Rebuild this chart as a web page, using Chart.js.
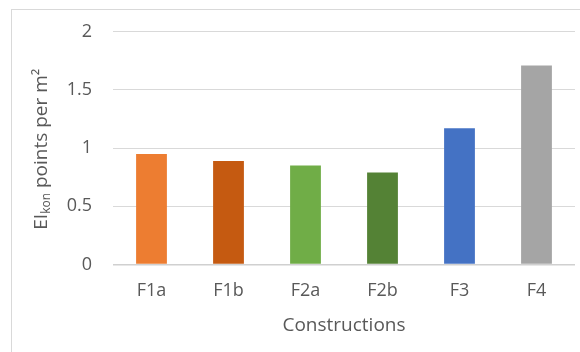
<!DOCTYPE html>
<html>
<head>
<meta charset="utf-8">
<script src="https://cdn.jsdelivr.net/npm/chart.js@4/dist/chart.umd.min.js"></script>
<style>
  html, body { margin: 0; padding: 0; background: #fff; }
  #wrap { width: 580px; height: 352px; }
</style>
</head>
<body>
<div id="wrap"><canvas id="c" width="580" height="352"></canvas></div>
<script>
// Construction variants and their environmental impact score per m²
const categories = ['F1a', 'F1b', 'F2a', 'F2b', 'F3', 'F4'];
const eiKon = [0.95, 0.89, 0.85, 0.79, 1.17, 1.71];
const barColors = ['#ED7D31', '#C55A11', '#70AD47', '#548235', '#4472C4', '#A5A5A5'];
const yTicks = [0, 0.5, 1, 1.5, 2];

const FONT = '"Open Sans", sans-serif';
const TEXT = '#595959';

// Outer frame plus the two axis titles (the y title carries a subscript)
const decorations = {
  id: 'decorations',
  beforeDraw(chart) {
    const ctx = chart.ctx;
    ctx.save();
    ctx.strokeStyle = '#d9d9d9';
    ctx.lineWidth = 1;
    ctx.strokeRect(11.5, 9.5, 700, 500);
    ctx.restore();
  },
  afterDraw(chart) {
    const ctx = chart.ctx;
    const area = chart.chartArea;
    ctx.save();
    ctx.fillStyle = TEXT;
    ctx.textBaseline = 'middle';

    // x title
    ctx.font = '19px ' + FONT;
    ctx.textAlign = 'center';
    ctx.fillText('Constructions', (area.left + area.right) / 2, 326);

    // y title, rotated, built from pieces
    const big = '19px ' + FONT;
    const small = '12px ' + FONT;
    const parts = [
      { t: 'EI', f: big, dy: 0 },
      { t: 'kon', f: small, dy: 5 },
      { t: ' points per m²', f: big, dy: 0 }
    ];
    let total = 0;
    parts.forEach(p => { ctx.font = p.f; p.w = ctx.measureText(p.t).width; total += p.w; });
    ctx.translate(42, (area.top + area.bottom) / 2 + 1);
    ctx.rotate(-Math.PI / 2);
    ctx.textAlign = 'left';
    let x = -total / 2;
    parts.forEach(p => {
      ctx.font = p.f;
      ctx.fillText(p.t, x, p.dy);
      x += p.w;
    });
    ctx.restore();
  }
};

new Chart(document.getElementById('c'), {
  type: 'bar',
  data: {
    labels: categories,
    datasets: [{
      data: eiKon,
      backgroundColor: barColors,
      borderWidth: 0,
      barPercentage: 0.4,
      categoryPercentage: 1.0
    }]
  },
  options: {
    responsive: false,
    animation: false,
    devicePixelRatio: 1,
    layout: { padding: { top: 31, right: 5, left: 0, bottom: 0 } },
    plugins: {
      legend: { display: false },
      tooltip: { enabled: false }
    },
    scales: {
      x: {
        grid: { display: false, drawTicks: false },
        border: { display: false },
        ticks: {
          color: TEXT,
          font: { family: FONT, size: 18 },
          padding: 16,
          maxRotation: 0
        },
        afterFit(s) { s.height = 87.5; }
      },
      y: {
        min: 0,
        max: 2,
        afterBuildTicks(s) { s.ticks = yTicks.map(v => ({ value: v })); },
        grid: {
          drawTicks: false,
          color: ctx => ctx.tick && ctx.tick.value === 0 ? '#d0d0d0' : '#d9d9d9',
          lineWidth: ctx => ctx.tick && ctx.tick.value === 0 ? 1.5 : 1
        },
        border: { display: false },
        ticks: {
          color: TEXT,
          font: { family: FONT, size: 18 },
          padding: 21,
          callback: v => String(v)
        },
        afterFit(s) { s.width = 113; }
      }
    }
  },
  plugins: [decorations]
});
</script>
</body>
</html>
